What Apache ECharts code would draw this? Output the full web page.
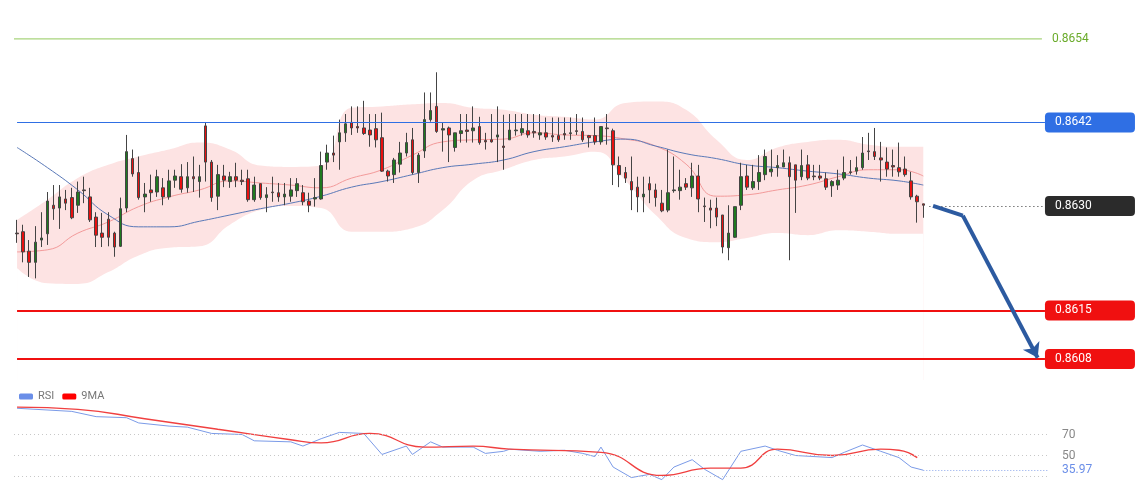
<!DOCTYPE html>
<html>
<head>
<meta charset="utf-8">
<script src="https://cdn.jsdelivr.net/npm/echarts@6/dist/echarts.min.js"></script>
<style>
  html, body { margin: 0; padding: 0; background: #fff; }
  #chart { width: 1140px; height: 500px; }
</style>
</head>
<body>
<div id="chart"></div>
<script>
// candles
var opens = [0.86261,0.86263,0.86235,0.86219,0.86251,0.86260,0.86301,0.86297,0.86310,0.86312,
0.86301,0.86323,0.86313,0.86284,0.86261,0.86281,0.86261,0.86242,0.86297,0.86368,
0.86348,0.86313,0.86323,0.86320,0.86326,0.86313,0.86337,0.86342,0.86326,0.86342,
0.86335,0.86415,0.86363,0.86314,0.86343,0.86335,0.86342,0.86337,0.86339,0.86309,
0.86332,0.86312,0.86320,0.86319,0.86313,0.86314,0.86322,0.86319,0.86307,0.86310,
0.86310,0.86363,0.86376,0.86392,0.86405,0.86420,0.86414,0.86412,0.86409,0.86411,
0.86398,0.86350,0.86345,0.86360,0.86376,0.86395,0.86348,0.86379,0.86424,0.86443,
0.86409,0.86412,0.86384,0.86404,0.86409,0.86408,0.86414,0.86394,0.86395,0.86399,
0.86386,0.86395,0.86408,0.86405,0.86408,0.86407,0.86402,0.86405,0.86401,0.86401,
0.86404,0.86404,0.86408,0.86407,0.86401,0.86401,0.86392,0.86412,0.86408,0.86358,
0.86348,0.86335,0.86327,0.86313,0.86332,0.86323,0.86304,0.86294,0.86322,0.86322,
0.86332,0.86326,0.86343,0.86300,0.86297,0.86297,0.86287,0.86240,0.86255,0.86301,
0.86343,0.86326,0.86335,0.86345,0.86349,0.86355,0.86356,0.86362,0.86359,0.86342,
0.86359,0.86343,0.86343,0.86339,0.86329,0.86330,0.86340,0.86349,0.86350,0.86355,
0.86379,0.86378,0.86369,0.86363,0.86358,0.86355,0.86353,0.86336,0.86314,0.86303];
var closes = [0.86260,0.86234,0.86219,0.86248,0.86254,0.86307,0.86296,0.86313,0.86304,0.86283,
0.86320,0.86322,0.86280,0.86258,0.86255,0.86255,0.86241,0.86296,0.86378,0.86346,
0.86312,0.86317,0.86319,0.86342,0.86313,0.86336,0.86343,0.86324,0.86342,0.86339,
0.86342,0.86363,0.86312,0.86345,0.86337,0.86342,0.86337,0.86335,0.86309,0.86330,
0.86312,0.86316,0.86319,0.86313,0.86317,0.86323,0.86332,0.86306,0.86301,0.86312,
0.86358,0.86376,0.86373,0.86405,0.86418,0.86412,0.86412,0.86404,0.86402,0.86395,
0.86350,0.86343,0.86366,0.86376,0.86391,0.86348,0.86373,0.86424,0.86437,0.86407,
0.86411,0.86402,0.86405,0.86408,0.86407,0.86412,0.86391,0.86392,0.86392,0.86402,
0.86384,0.86409,0.86409,0.86411,0.86402,0.86405,0.86405,0.86399,0.86399,0.86395,
0.86402,0.86405,0.86407,0.86395,0.86398,0.86392,0.86414,0.86411,0.86359,0.86345,
0.86340,0.86323,0.86313,0.86317,0.86323,0.86312,0.86293,0.86319,0.86323,0.86327,
0.86327,0.86343,0.86310,0.86299,0.86294,0.86284,0.86241,0.86261,0.86299,0.86342,
0.86327,0.86335,0.86348,0.86371,0.86353,0.86358,0.86362,0.86342,0.86337,0.86358,
0.86340,0.86342,0.86340,0.86327,0.86335,0.86337,0.86348,0.86348,0.86355,0.86376,
0.86378,0.86371,0.86366,0.86353,0.86356,0.86349,0.86345,0.86313,0.86306,0.86301];
var lows = [0.86247,0.86219,0.86198,0.86196,0.86241,0.86244,0.86280,0.86267,0.86294,0.86281,
0.86290,0.86304,0.86277,0.86241,0.86241,0.86242,0.86227,0.86241,0.86291,0.86342,
0.86309,0.86291,0.86306,0.86313,0.86301,0.86309,0.86326,0.86319,0.86319,0.86320,
0.86312,0.86335,0.86306,0.86294,0.86327,0.86326,0.86327,0.86330,0.86306,0.86306,
0.86309,0.86291,0.86306,0.86306,0.86301,0.86306,0.86313,0.86301,0.86291,0.86299,
0.86309,0.86352,0.86363,0.86352,0.86392,0.86402,0.86405,0.86402,0.86385,0.86384,
0.86349,0.86335,0.86333,0.86348,0.86371,0.86345,0.86333,0.86369,0.86421,0.86405,
0.86378,0.86363,0.86378,0.86391,0.86391,0.86391,0.86388,0.86381,0.86391,0.86363,
0.86352,0.86395,0.86401,0.86401,0.86398,0.86398,0.86395,0.86395,0.86392,0.86392,
0.86395,0.86395,0.86402,0.86392,0.86384,0.86388,0.86388,0.86388,0.86330,0.86327,
0.86333,0.86294,0.86291,0.86291,0.86304,0.86299,0.86291,0.86291,0.86319,0.86309,
0.86323,0.86313,0.86291,0.86277,0.86268,0.86271,0.86232,0.86222,0.86254,0.86294,
0.86323,0.86323,0.86323,0.86337,0.86342,0.86342,0.86356,0.86222,0.86290,0.86337,
0.86337,0.86337,0.86337,0.86323,0.86313,0.86323,0.86337,0.86345,0.86345,0.86352,
0.86366,0.86366,0.86335,0.86342,0.86342,0.86342,0.86342,0.86309,0.86276,0.86283];
var highs = [0.86280,0.86273,0.86251,0.86271,0.86291,0.86320,0.86330,0.86330,0.86323,0.86326,
0.86335,0.86342,0.86326,0.86291,0.86290,0.86291,0.86263,0.86312,0.86402,0.86381,
0.86371,0.86333,0.86345,0.86352,0.86340,0.86352,0.86352,0.86360,0.86363,0.86371,
0.86359,0.86420,0.86366,0.86359,0.86359,0.86349,0.86362,0.86352,0.86352,0.86342,
0.86332,0.86327,0.86342,0.86333,0.86333,0.86340,0.86340,0.86330,0.86319,0.86340,
0.86378,0.86388,0.86401,0.86424,0.86432,0.86443,0.86443,0.86451,0.86432,0.86432,
0.86434,0.86352,0.86369,0.86392,0.86405,0.86412,0.86376,0.86463,0.86463,0.86492,
0.86420,0.86414,0.86405,0.86432,0.86432,0.86443,0.86428,0.86405,0.86432,0.86443,
0.86431,0.86432,0.86432,0.86432,0.86432,0.86432,0.86432,0.86427,0.86427,0.86427,
0.86427,0.86427,0.86432,0.86427,0.86402,0.86427,0.86414,0.86432,0.86411,0.86371,
0.86356,0.86371,0.86342,0.86342,0.86342,0.86332,0.86323,0.86381,0.86371,0.86352,
0.86340,0.86362,0.86359,0.86312,0.86309,0.86312,0.86287,0.86301,0.86299,0.86362,
0.86359,0.86359,0.86373,0.86381,0.86381,0.86373,0.86381,0.86371,0.86359,0.86381,
0.86373,0.86359,0.86359,0.86348,0.86337,0.86352,0.86371,0.86366,0.86371,0.86399,
0.86405,0.86412,0.86392,0.86384,0.86381,0.86391,0.86371,0.86349,0.86316,0.86303];

// indicator samples (candle number -> value)
var bandIdx = [1,6,11,16,21,26,31,36,41,46,51,56,61,66,71,76,81,86,91,96,101,106,111,116,121,126,131,136,141,146,150];
var bandUpper = [0.86280,0.86309,0.86340,0.86359,0.86371,0.86381,0.86391,0.86381,0.86358,0.86356,0.86358,0.86441,0.86443,0.86446,0.86448,0.86441,0.86438,0.86431,0.86428,0.86424,0.86448,0.86450,0.86438,0.86395,0.86366,0.86384,0.86392,0.86395,0.86388,0.86385,0.86385];
var bandLower = [0.86211,0.86189,0.86188,0.86205,0.86229,0.86240,0.86242,0.86273,0.86294,0.86300,0.86297,0.86263,0.86263,0.86268,0.86294,0.86337,0.86352,0.86366,0.86371,0.86378,0.86337,0.86287,0.86254,0.86248,0.86254,0.86261,0.86258,0.86265,0.86263,0.86260,0.86260];
var maFast = [0.86234,0.86237,0.86261,0.86277,0.86299,0.86313,0.86323,0.86336,0.86333,0.86330,0.86326,0.86340,0.86352,0.86373,0.86392,0.86395,0.86396,0.86405,0.86402,0.86401,0.86396,0.86386,0.86360,0.86314,0.86316,0.86323,0.86330,0.86342,0.86352,0.86352,0.86343];
var maSlow = [0.86384,0.86355,0.86323,0.86287,0.86270,0.86270,0.86278,0.86287,0.86296,0.86304,0.86314,0.86327,0.86335,0.86345,0.86355,0.86360,0.86366,0.86378,0.86385,0.86392,0.86396,0.86386,0.86375,0.86368,0.86359,0.86355,0.86350,0.86346,0.86340,0.86336,0.86330];

var rsiIdx = [1,10,14,19,21,26,29,33,38,40,46,48,51,54,58,61,65,66,69,71,76,78,81,82,87,91,94,96,97,99,102,105,107,109,112,114,117,120,124,126,129,135,137,140,143,146,148,150];
var rsiVal = [95,92,87,86,81,78,77,71,70,64,63,59,66,72,71,51,59,51,63,58,58,52,54,56,54,55,52,49,58,39,29,32,27,39,46,37,27,54,59,55,50,48,53,60,54,48,39,36];
var maRsiIdx = [1,11,22,34,46,51,59,68,76,82,97,107,115,120,126,135,143,146,149];
var maRsiVal = [96,94,85,75,65,62,71,58,59,56,53,31,38,38,56,50,56,55,48];

var levels = [0.8654, 0.8642, 0.8630, 0.8615, 0.8608];
var levelText = ['0.8654', '0.8642', '0.8630', '0.8615', '0.8608'];
var rsiLevels = [70, 50, 30];
var rsiLast = 35.97;
var slots = 170;

var cats = [];
for (var i = 0; i < slots; i++) cats.push(String(i + 1));
var candles = opens.map(function (o, i) { return [o, closes[i], lows[i], highs[i]]; });
function pairs(xs, ys) { return xs.map(function (x, i) { return [x, ys[i]]; }); }

function tag(text, bg) {
  return {
    show: true, position: 'end', distance: 0, formatter: text,
    color: '#fff', backgroundColor: bg, fontSize: 12,
    fontFamily: 'Roboto', padding: [4, 8, 4, 10], width: 72, borderRadius: 4
  };
}
function flat(v, fromCat, style, label) {
  return [{ coord: [fromCat, v], lineStyle: style, label: label }, { coord: [slots - 1, v], lineStyle: style }];
}

var chart = echarts.init(document.getElementById('chart'));
chart.setOption({
  animation: false,
  backgroundColor: '#fff',
  legend: {
    left: 14, top: 386, itemWidth: 14, itemHeight: 6, icon: 'roundRect',
    textStyle: { color: '#777', fontSize: 11, fontFamily: 'Roboto' },
    data: [{ name: 'RSI', itemStyle: { color: '#6a8ee8' } }, { name: '9MA', itemStyle: { color: '#f00' } }]
  },
  grid: [
    { left: 14, right: 92, top: 11, height: 369 },
    { left: 14, right: 92, top: 403, height: 84 }
  ],
  xAxis: [
    { type: 'category', data: cats, gridIndex: 0, show: false, boundaryGap: true },
    { type: 'value', gridIndex: 0, min: 0.5, max: slots + 0.5, show: false },
    { type: 'value', gridIndex: 1, min: 0.5, max: slots + 0.5, show: false }
  ],
  yAxis: [
    { type: 'value', gridIndex: 0, min: 0.8605, max: 0.8658, show: false },
    { type: 'value', gridIndex: 1, min: 20, max: 100, show: false }
  ],
  series: [
    // bollinger band: pink fill under upper, white fill under lower
    { type: 'line', name: 'bu', xAxisIndex: 1, yAxisIndex: 0, smooth: true, symbol: 'none',
      lineStyle: { width: 0 }, areaStyle: { color: '#fde3e3', opacity: 1, origin: 'start' },
      data: pairs(bandIdx, bandUpper), z: 1, silent: true },
    { type: 'line', name: 'bl', xAxisIndex: 1, yAxisIndex: 0, smooth: true, symbol: 'none',
      lineStyle: { width: 0 }, areaStyle: { color: '#fff', opacity: 1, origin: 'start' },
      data: pairs(bandIdx, bandLower), z: 1, silent: true },
    { type: 'line', name: 'maf', xAxisIndex: 1, yAxisIndex: 0, smooth: true, symbol: 'none',
      lineStyle: { width: 1, color: '#f39a9a' }, data: pairs(bandIdx, maFast), z: 2 },
    { type: 'line', name: 'mas', xAxisIndex: 1, yAxisIndex: 0, smooth: true, symbol: 'none',
      lineStyle: { width: 1, color: '#5a79b8' }, data: pairs(bandIdx, maSlow), z: 2 },
    // green resistance level on its own series
    { type: 'line', name: 'lvl', xAxisIndex: 1, yAxisIndex: 0, symbol: 'none', z: 2,
      lineStyle: { width: 1.2, color: '#a8d47c' }, itemStyle: { color: '#a8d47c' },
      data: [[0.5, levels[0]], [slots - 0.5, levels[0]]],
      endLabel: { show: true, distance: 10, formatter: levelText[0], color: '#6aab2a', fontSize: 12, fontFamily: 'Roboto' } },
    { type: 'candlestick', xAxisIndex: 0, yAxisIndex: 0, data: candles, barMaxWidth: 4, z: 3,
      itemStyle: { color: '#1f7a1f', color0: '#e81010', borderColor: '#444', borderColor0: '#444', borderWidth: 1 },
      markLine: {
        silent: true, symbol: 'none', animation: false,
        data: [
          flat(levels[1], 0, { color: '#2f6fe4', width: 1.2, type: 'solid' }, tag(levelText[1], '#2f6fe4')),
          flat(levels[3], 0, { color: '#f01010', width: 2, type: 'solid' }, tag(levelText[3], '#f01010')),
          flat(levels[4], 0, { color: '#f01010', width: 2, type: 'solid' }, tag(levelText[4], '#f01010')),
          flat(levels[2], 150, { color: '#333', width: 1, type: [1, 3] }, tag(levelText[2], '#2b2b2b'))
        ]
      }
    },
    { type: 'line', name: 'arrow', xAxisIndex: 1, yAxisIndex: 0, data: [], symbol: 'none', z: 4,
      markLine: {
        silent: true, animation: false, symbol: ['none', 'none'],
        lineStyle: { color: '#2c5aa0', width: 4, type: 'solid' }, label: { show: false },
        data: [
          [{ coord: [151.6, 0.86300] }, { coord: [156.5, 0.86286] }],
          [{ coord: [156.5, 0.86286], symbol: 'none' }, { coord: [168.8, 0.86082], symbol: 'arrow', symbolSize: 14 }]
        ]
      }
    },
    { type: 'line', name: 'RSI', xAxisIndex: 2, yAxisIndex: 1, symbol: 'none',
      lineStyle: { width: 1, color: '#7b9be8' }, itemStyle: { color: '#6a8ee8' }, data: pairs(rsiIdx, rsiVal),
      markLine: {
        silent: true, symbol: 'none', animation: false,
        lineStyle: { color: '#c8c8c8', width: 1, type: [1, 3] },
        data: [
          { yAxis: rsiLevels[0], label: { show: true, position: 'end', distance: 14, formatter: '70', color: '#888', fontSize: 12, fontFamily: 'Roboto' } },
          { yAxis: rsiLevels[1], label: { show: true, position: 'end', distance: 14, formatter: '50', color: '#888', fontSize: 12, fontFamily: 'Roboto' } },
          { yAxis: rsiLevels[2], label: { show: false } },
          [{ coord: [150, rsiLast], lineStyle: { color: '#8aa6ec', type: [1, 2] },
             label: { show: true, position: 'end', distance: 14, formatter: String(rsiLast), color: '#6a8ee8', fontSize: 12, fontFamily: 'Roboto' } },
           { coord: [slots + 0.5, rsiLast] }]
        ]
      }
    },
    { type: 'line', name: '9MA', xAxisIndex: 2, yAxisIndex: 1, symbol: 'none', smooth: true,
      lineStyle: { width: 1.3, color: '#f04040' }, itemStyle: { color: '#f00' }, data: pairs(maRsiIdx, maRsiVal) }
  ]
});
</script>
</body>
</html>
